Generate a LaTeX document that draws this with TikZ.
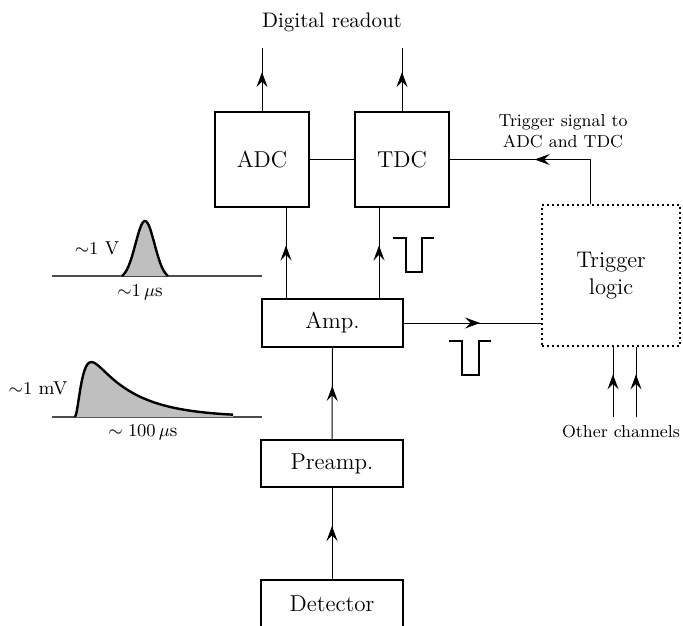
\documentclass[tikz,border=0pt]{standalone}
\usetikzlibrary{arrows.meta,decorations.markings}
\begin{document}
\begin{tikzpicture}[x=0.5pt,y=-0.5pt,
  box/.style={draw, line width=0.8pt, inner sep=0pt, font=\fontsize{11.5}{13.5}\selectfont},
  conn/.style={line width=0.5pt},
  midarrow/.style={postaction={decorate},decoration={markings,mark=at position 0.5 with {\arrow[xshift=3.75pt]{Stealth[length=7.5pt,width=5.5pt,inset=2.8pt]}}}},
  pulse/.style={line width=1.3pt},
  wave/.style={line width=1.2pt},
  baseline/.style={line width=0.6pt, black!70},
  small/.style={font=\fontsize{8.7}{10.5}\selectfont, align=center},
  lbl/.style={font=\fontsize{9.3}{11}\selectfont, inner sep=0pt}
]
\clip (0,0) rectangle (683,625);

% boxes
\node[box, minimum width=47pt, minimum height=47.5pt] (adc) at (262,159.5) {ADC};
\node[box, minimum width=47pt, minimum height=47.5pt] (tdc) at (402,159.5) {TDC};
\node[box, minimum width=70.5pt, minimum height=24pt] (amp) at (332.5,323) {Amp.};
\node[box, minimum width=71pt, minimum height=23.5pt] (preamp) at (332,463.5) {Preamp.};
\node[box, minimum width=71pt, minimum height=24pt] (det) at (332,604) {Detector};
\node[draw, line width=0.8pt, dash pattern=on 0.8pt off 1.7pt, minimum width=69pt, minimum height=70.5pt, inner sep=0pt, align=center, font=\fontsize{11.3}{13.5}\selectfont] (trig) at (611,275.5) {Trigger\\logic};

% texts
\node[font=\fontsize{10.5}{12.5}\selectfont] (dr) at (332,22) {Digital readout};
\node[small] (ts) at (563,131) {Trigger signal to\\ADC and TDC};
\node[small] (oc) at (621,432) {Other channels};

% coordinates
\coordinate (rotop) at (0,48);
\coordinate (xa) at (286,0);
\coordinate (xt) at (379,0);
\coordinate (xs) at (590,0);
\coordinate (xo1) at (613,0);
\coordinate (xo2) at (636,0);
\coordinate (ocb) at (0,417);

% connectors
\draw[conn, midarrow] (adc.north) -- (adc.north |- rotop);
\draw[conn, midarrow] (tdc.north) -- (tdc.north |- rotop);
\draw[conn] (adc.east) -- (tdc.west);
\draw[conn, midarrow] (xa |- amp.north) -- (xa |- adc.south);
\draw[conn, midarrow] (xt |- amp.north) -- (xt |- tdc.south);
\draw[conn, midarrow] (amp.east) -- (amp.east -| trig.west);
\draw[conn, midarrow] (xs |- trig.north) |- (tdc.east);
\draw[conn, midarrow] (xo1 |- ocb) -- (xo1 |- trig.south);
\draw[conn, midarrow] (xo2 |- ocb) -- (xo2 |- trig.south);
\draw[conn, midarrow] (preamp.north) -- (amp.south);
\draw[conn, midarrow] (det.north) -- (preamp.south);

% pulse symbols
\draw[pulse] (393,238) -- (406,238) -- (406,272) -- (422,272) -- (422,238) -- (434,238);
\draw[pulse] (449,341) -- (462,341) -- (462,375) -- (479,375) -- (479,341) -- (491,341);

% top waveform (~1 V)
\draw[baseline] (52,276) -- (262,276);
\fill[black!25] plot[domain=122:168, samples=90] (\x, {276-55*(exp(-((\x-145)^2)/180.5)-0.053)/0.947}) -- cycle;
\draw[wave] plot[domain=122:168, samples=90] (\x, {276-55*(exp(-((\x-145)^2)/180.5)-0.053)/0.947});
\node[lbl] (l1v) at (97,248) {${\sim}1$ V};
\node[lbl] (l1us) at (140,292) {${\sim}1\,\mu$s};

% bottom waveform (~1 mV)
\draw[baseline] (52,417) -- (262,417);
\fill[black!25] plot[domain=0:158, samples=120] ({75+\x}, {417-92*(1-exp(-\x/6))^2*exp(-\x/43)}) -- (233,417) -- (75,417) -- cycle;
\draw[wave] plot[domain=0:158, samples=120] ({75+\x}, {417-92*(1-exp(-\x/6))^2*exp(-\x/43)});
\node[lbl] (l1mv) at (38,388) {${\sim}1$ mV};
\node[lbl] (l100us) at (143,432) {$\sim 100\,\mu$s};
\end{tikzpicture}
\end{document}
